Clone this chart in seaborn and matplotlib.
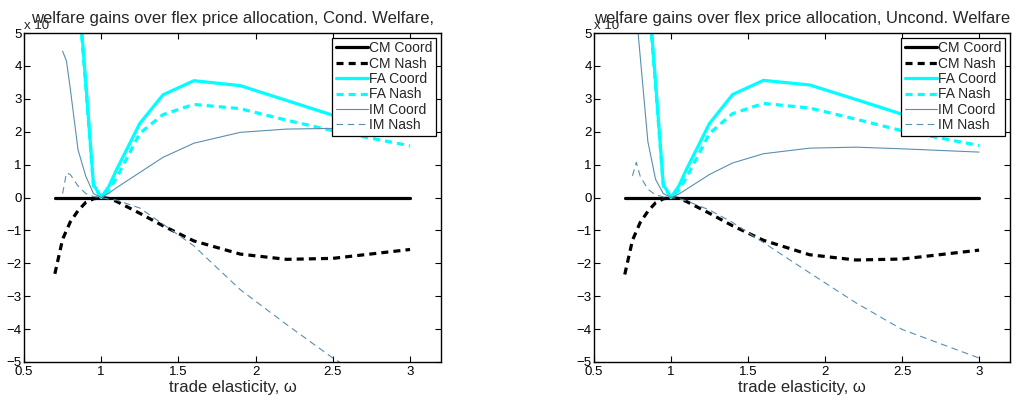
import numpy as np
import matplotlib
matplotlib.use("Agg")
import matplotlib.pyplot as plt
import seaborn as sns
from matplotlib.ticker import FuncFormatter

# Trade elasticity grid (welfare gains in units of 1e-3)
omega = [0.7, 0.75, 0.8, 0.85, 0.9, 0.95, 1.0, 1.05, 1.1, 1.25, 1.4, 1.6, 1.9, 2.2, 2.5, 3.0]
omega_im = [0.75, 0.775, 0.8, 0.85, 0.9, 0.95, 1.0, 1.05, 1.1, 1.25, 1.4, 1.6, 1.9, 2.2, 2.5, 3.0]

# Conditional welfare
cm_coord_c = [0.0, 0.0, 0.0, 0.0, 0.0, 0.0, 0.0, 0.0, 0.0, 0.0, 0.0, 0.0, 0.0, 0.0, 0.0, 0.0]
cm_nash_c = [-2.32, -1.27, -0.74, -0.4, -0.15, -0.04, 0.0, -0.03, -0.12, -0.48, -0.86, -1.32, -1.72, -1.88, -1.85, -1.58]
fa_coord_c = [20.0, 14.0, 10.0, 6.5, 3.5, 0.4, 0.0, 0.34, 0.85, 2.25, 3.12, 3.55, 3.4, 2.95, 2.5, 2.15]
fa_nash_c = [19.0, 13.5, 9.5, 6.3, 3.4, 0.35, 0.0, 0.22, 0.6, 1.95, 2.52, 2.83, 2.7, 2.35, 2.03, 1.57]
im_coord_c = [4.45, 4.15, 3.3, 1.45, 0.65, 0.12, 0.0, 0.13, 0.3, 0.76, 1.22, 1.65, 1.98, 2.08, 2.1, 2.1]
im_nash_c = [0.12, 0.74, 0.7, 0.35, 0.12, 0.03, 0.0, -0.05, -0.08, -0.32, -0.81, -1.47, -2.8, -3.86, -4.88, -6.3]

# Unconditional welfare
cm_coord_u = [0.0, 0.0, 0.0, 0.0, 0.0, 0.0, 0.0, 0.0, 0.0, 0.0, 0.0, 0.0, 0.0, 0.0, 0.0, 0.0]
cm_nash_u = [-2.34, -1.3, -0.76, -0.42, -0.16, -0.04, 0.0, -0.03, -0.12, -0.48, -0.86, -1.3, -1.74, -1.9, -1.87, -1.6]
fa_coord_u = [20.0, 14.0, 10.0, 6.5, 3.5, 0.4, 0.0, 0.34, 0.85, 2.25, 3.13, 3.56, 3.42, 2.98, 2.53, 2.15]
fa_nash_u = [19.0, 13.5, 9.5, 6.3, 3.4, 0.35, 0.0, 0.22, 0.6, 1.95, 2.55, 2.86, 2.72, 2.38, 2.03, 1.58]
im_coord_u = [8.5, 5.6, 4.3, 1.7, 0.55, 0.12, 0.0, 0.1, 0.25, 0.7, 1.05, 1.33, 1.5, 1.53, 1.48, 1.38]
im_nash_u = [0.66, 1.07, 0.65, 0.25, 0.08, 0.02, 0.0, -0.03, -0.1, -0.38, -0.76, -1.37, -2.29, -3.2, -4.01, -4.88]

titles = ["welfare gains over flex price allocation, Cond. Welfare,",
          "welfare gains over flex price allocation, Uncond. Welfare"]

sns.set_style("ticks")
plt.rcParams['font.family'] = ['Liberation Sans', 'DejaVu Sans']

CYAN = "#00ffff"
IM_COL = "#5a8fb0"

fig = plt.figure(figsize=(10.16, 4.0), dpi=100)
ax1 = fig.add_axes([0.0236, 0.095, 0.4104, 0.8225])
ax2 = fig.add_axes([0.5846, 0.095, 0.4094, 0.8225])

panels = [
    (ax1, titles[0], cm_coord_c, cm_nash_c, fa_coord_c, fa_nash_c, im_coord_c, im_nash_c),
    (ax2, titles[1], cm_coord_u, cm_nash_u, fa_coord_u, fa_nash_u, im_coord_u, im_nash_u),
]

# matlab style tick labels with a real minus sign
fmt = FuncFormatter(lambda v, p: ("%g" % v).replace("-", "\u2212"))

for ax, title, cmc, cmn, fac, fan, imc, imn in panels:
    sns.lineplot(x=omega, y=cmc, ax=ax, color="black", linewidth=2.3, label="CM Coord")
    sns.lineplot(x=omega, y=cmn, ax=ax, color="black", linewidth=2.3,
                 linestyle=(0, (2.2, 1.6)), label="CM Nash")
    sns.lineplot(x=omega, y=fac, ax=ax, color=CYAN, linewidth=2.3, label="FA Coord")
    sns.lineplot(x=omega, y=fan, ax=ax, color=CYAN, linewidth=2.3,
                 linestyle=(0, (2.2, 1.6)), label="FA Nash")
    sns.lineplot(x=omega_im, y=imc, ax=ax, color=IM_COL, linewidth=0.8, label="IM Coord")
    sns.lineplot(x=omega_im, y=imn, ax=ax, color=IM_COL, linewidth=0.8,
                 linestyle=(0, (6, 4)), label="IM Nash")

    ax.set_xlim(0.5, 3.2)
    ax.set_ylim(-5, 5)
    ax.set_xticks([0.5, 1, 1.5, 2, 2.5, 3])
    ax.set_yticks([-5, -4, -3, -2, -1, 0, 1, 2, 3, 4, 5])
    ax.xaxis.set_major_formatter(fmt)
    ax.yaxis.set_major_formatter(fmt)
    ax.tick_params(direction='in', top=True, right=True, length=4, width=0.8,
                   labelsize=9.5, colors='black')
    ax.tick_params(axis='x', pad=3)
    ax.tick_params(axis='y', pad=1.5)
    for sp in ax.spines.values():
        sp.set_visible(True)
        sp.set_color('black')
        sp.set_linewidth(1.0)

    ax.set_xlabel("trade elasticity, ω", fontsize=12, labelpad=1)
    ax.set_ylabel("")
    ax.set_title(title, fontsize=12, pad=7)
    ax.text(0.0, 1.003, "x 10", transform=ax.transAxes, fontsize=9.5,
            ha='left', va='bottom')

    leg = ax.legend(loc='upper right', fontsize=10, fancybox=False,
                    edgecolor='black', framealpha=1, handlelength=2.3,
                    handletextpad=0.1, labelspacing=0.1, borderpad=0.25,
                    borderaxespad=0.35)
    leg.get_frame().set_linewidth(0.9)

fig.savefig("out.png", dpi=100)
